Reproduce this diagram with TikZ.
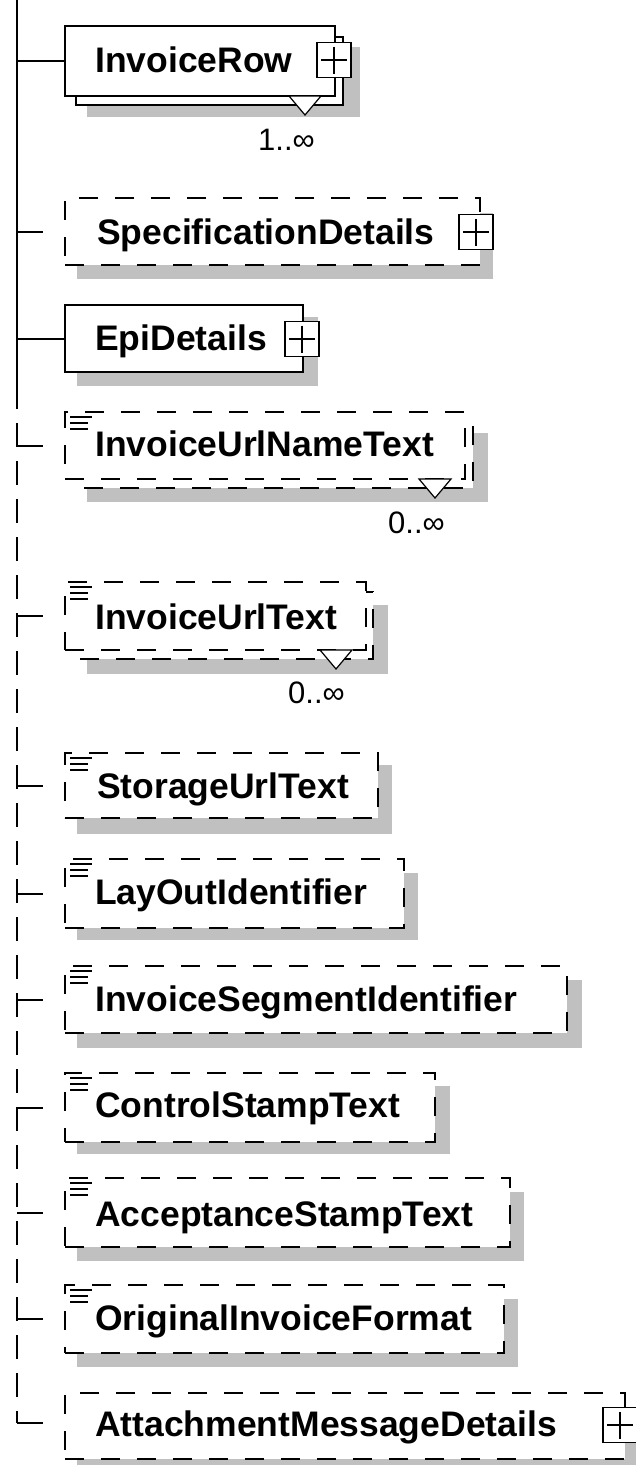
\documentclass[tikz,border=0pt]{standalone}
\usepackage{fontspec}
\setmainfont{Liberation Sans}
\definecolor{shadowc}{RGB}{192,192,192}
\tikzset{
  boxsolid/.style={draw, line width=2pt, fill=white, inner sep=0pt, outer sep=0pt, anchor=north west},
  boxdash/.style={boxsolid, dash pattern=on 19pt off 17pt},
  backsolid/.style={draw, line width=2pt, fill=white},
  backdash/.style={backsolid, dash pattern=on 19pt off 17pt},
  lbl/.style={inner sep=0pt, anchor=base west, font=\fontsize{35.5}{40}\selectfont\bfseries},
  mult/.style={inner sep=0pt, anchor=base east, font=\fontsize{31}{36}\selectfont},
  plusbox/.style={draw, fill=white, line width=1.5pt, minimum width=34pt, minimum height=35pt, inner sep=0pt,
    path picture={
      \draw[line width=1.5pt] ([xshift=4pt]path picture bounding box.west) -- ([xshift=-4pt]path picture bounding box.east);
      \draw[line width=1.5pt] ([yshift=-4pt]path picture bounding box.north) -- ([yshift=4pt]path picture bounding box.south);
    }},
  conn/.style={line width=2pt},
  conndash/.style={line width=2pt, dash pattern=on 26pt off 40pt},
  spinedash/.style={line width=2pt, dash pattern=on 24pt off 14pt},
  icon/.style={line width=1.5pt},
  tri/.style={draw, line width=1.2pt, fill=white},
}
\begin{document}
\begin{tikzpicture}[x=1pt,y=-1pt]
\useasboundingbox (0,0) rectangle (636,1465);
\fill[white] (0,0) rectangle (636,1465);

% shadows
\fill[shadowc] (87,47) rectangle (360,117);
\fill[shadowc] (77,213) rectangle (493,279);
\fill[shadowc] (77,317) rectangle (318,386);
\fill[shadowc] (87,433) rectangle (488,502);
\fill[shadowc] (87,605) rectangle (388,674);
\fill[shadowc] (77,765) rectangle (392,834);
\fill[shadowc] (77,873) rectangle (418,940);
\fill[shadowc] (77,980) rectangle (582,1048);
\fill[shadowc] (77,1086) rectangle (450,1154);
\fill[shadowc] (77,1192) rectangle (524,1261);
\fill[shadowc] (77,1299) rectangle (518,1367);
\fill[shadowc] (77,1407) rectangle (636,1465);

% back boxes of repeated elements
\draw[backsolid] (76,37) rectangle (343,105);
\draw[backdash] (78,422) rectangle (473,488);
\draw[backdash] (75,592) rectangle (373,659);

% element boxes
\node[boxsolid, minimum width=270pt, minimum height=70pt] (b1) at (65,26) {};
\node[boxdash,  minimum width=415pt, minimum height=67pt] (b2) at (65,198) {};
\node[boxsolid, minimum width=238pt, minimum height=67pt] (b3) at (65,305) {};
\node[boxdash,  minimum width=400pt, minimum height=67pt] (b4) at (65,412) {};
\node[boxdash,  minimum width=301pt, minimum height=68pt] (b5) at (65,582) {};
\node[boxdash,  minimum width=313pt, minimum height=65pt] (b6) at (65,753) {};
\node[boxdash,  minimum width=339pt, minimum height=69pt] (b7) at (65,859) {};
\node[boxdash,  minimum width=502pt, minimum height=67pt] (b8) at (65,966) {};
\node[boxdash,  minimum width=370pt, minimum height=69pt] (b9) at (65,1073) {};
\node[boxdash,  minimum width=445pt, minimum height=69pt] (b10) at (65,1178) {};
\node[boxdash,  minimum width=439pt, minimum height=68pt] (b11) at (65,1285) {};
\node[boxdash,  minimum width=560pt, minimum height=66pt] (b12) at (65,1393) {};

% labels
\node[lbl] (t1) at (95,72) {InvoiceRow};
\node[lbl] (t2) at (97,244) {SpecificationDetails};
\node[lbl] (t3) at (95,350) {EpiDetails};
\node[lbl] (t4) at (95,456) {InvoiceUrlNameText};
\node[lbl] (t5) at (95,629) {InvoiceUrlText};
\node[lbl] (t6) at (97,798) {StorageUrlText};
\node[lbl] (t7) at (95,904) {LayOutIdentifier};
\node[lbl] (t8) at (95,1011) {InvoiceSegmentIdentifier};
\node[lbl] (t9) at (95,1117) {ControlStampText};
\node[lbl] (t10) at (95,1226) {AcceptanceStampText};
\node[lbl] (t11) at (95,1330) {OriginalInvoiceFormat};
\node[lbl] (t12) at (95,1436) {AttachmentMessageDetails};

% expand buttons
\node[plusbox] (p1) at (334,60) {};
\node[plusbox] (p2) at (476,232) {};
\node[plusbox] (p3) at (302,339) {};
\node[plusbox] (p12) at (620,1425) {};

% simple-type icons
\foreach \b in {b4,b5,b6,b7,b8,b9,b10,b11}{
  \draw[icon] ([shift={(5,5)}]\b.north west) -- ++(22,0);
  \draw[icon] ([shift={(5,11)}]\b.north west) -- ++(18,0);
  \draw[icon] ([shift={(5,17)}]\b.north west) -- ++(18,0);
}

% multiplicity markers
\foreach \b in {b1,b4,b5}{
  \draw[tri] ([xshift=-46pt]\b.south east) -- ([xshift=-14pt]\b.south east)
     -- ([xshift=-30pt,yshift=-19pt]\b.south east) -- cycle;
}
\node[mult] (m1) at ([xshift=-20pt,yshift=-54pt]b1.south east) {1..∞};
\node[mult] (m4) at ([xshift=-20pt,yshift=-54pt]b4.south east) {0..∞};
\node[mult] (m5) at ([xshift=-21pt,yshift=-53pt]b5.south east) {0..∞};

% spine
\coordinate (sp) at (17,0);
\coordinate (spm) at (17,385);
\coordinate (spe) at (17,1423);
\draw[conn] (sp) -- (spm);
\draw[spinedash] (spm) -- (spe);

% connectors
\draw[conn] (sp |- b1.west) -- (b1.west);
\draw[conn] (sp |- b3.west) -- (b3.west);
\foreach \b in {b2,b4,b5,b6,b7,b8,b9,b10,b11}{
  \draw[conndash] (sp |- \b.west) -- (\b.west);
}
\draw[conndash] (spe) -- (spe -| b12.west);
\end{tikzpicture}
\end{document}
